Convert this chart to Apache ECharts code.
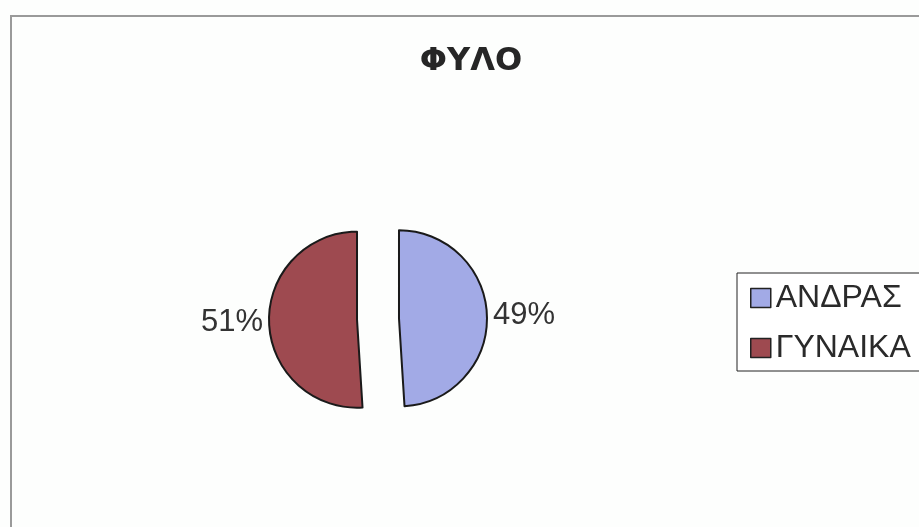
<!DOCTYPE html>
<html><head><meta charset="utf-8">
<script src="https://cdn.jsdelivr.net/npm/echarts@6/dist/echarts.min.js"></script>
<style>html,body{margin:0;padding:0;background:#fff}#c{width:919px;height:527px}</style>
</head><body><div id="c"></div>
<script>
const titleText = 'ΦΥΛΟ';
const categories = ['ΑΝΔΡΑΣ', 'ΓΥΝΑΙΚΑ'];
const values = [49, 51];
const colors = ['#a2aae6', '#9e4a50'];

const chart = echarts.init(document.getElementById('c'));
chart.setOption({
  backgroundColor: '#fdfefd',
  animation: false,
  graphic: [{
    type: 'rect', shape: {x: 11, y: 16, width: 960, height: 560},
    style: {fill: 'none', stroke: '#9a9a9a', lineWidth: 2}, silent: true
  }],
  title: {
    text: titleText, left: 466, top: 41, textAlign: 'center',
    textStyle: {fontFamily: 'DejaVu Sans', fontWeight: 'bold', fontSize: 32, color: '#262626'}
  },
  legend: {
    orient: 'vertical', left: 737, top: 273,
    data: categories,
    icon: 'rect', itemWidth: 20, itemHeight: 19, itemGap: 18,
    padding: [9, 20, 7, 13],
    borderColor: '#222', borderWidth: 1, backgroundColor: '#fff',
    itemStyle: {borderColor: '#222', borderWidth: 1.5},
    textStyle: {fontFamily: 'Liberation Sans', fontSize: 32, lineHeight: 32, color: '#2a2a2a'}
  },
  series: [{
    type: 'pie', center: [378, 319], radius: 88,
    startAngle: 90, clockwise: true,
    selectedMode: 'multiple', selectedOffset: 21,
    data: categories.map((n, i) => ({name: n, value: values[i], selected: true, itemStyle: {color: colors[i]}})),
    itemStyle: {borderColor: '#1a1a1a', borderWidth: 2},
    label: {
      show: true, position: 'outside', formatter: '{d}%',
      fontFamily: 'Liberation Sans', fontSize: 31, color: '#333'
    },
    labelLine: {show: false, length: 1, length2: 0},
    emphasis: {disabled: true}
  }]
});
</script></body></html>
